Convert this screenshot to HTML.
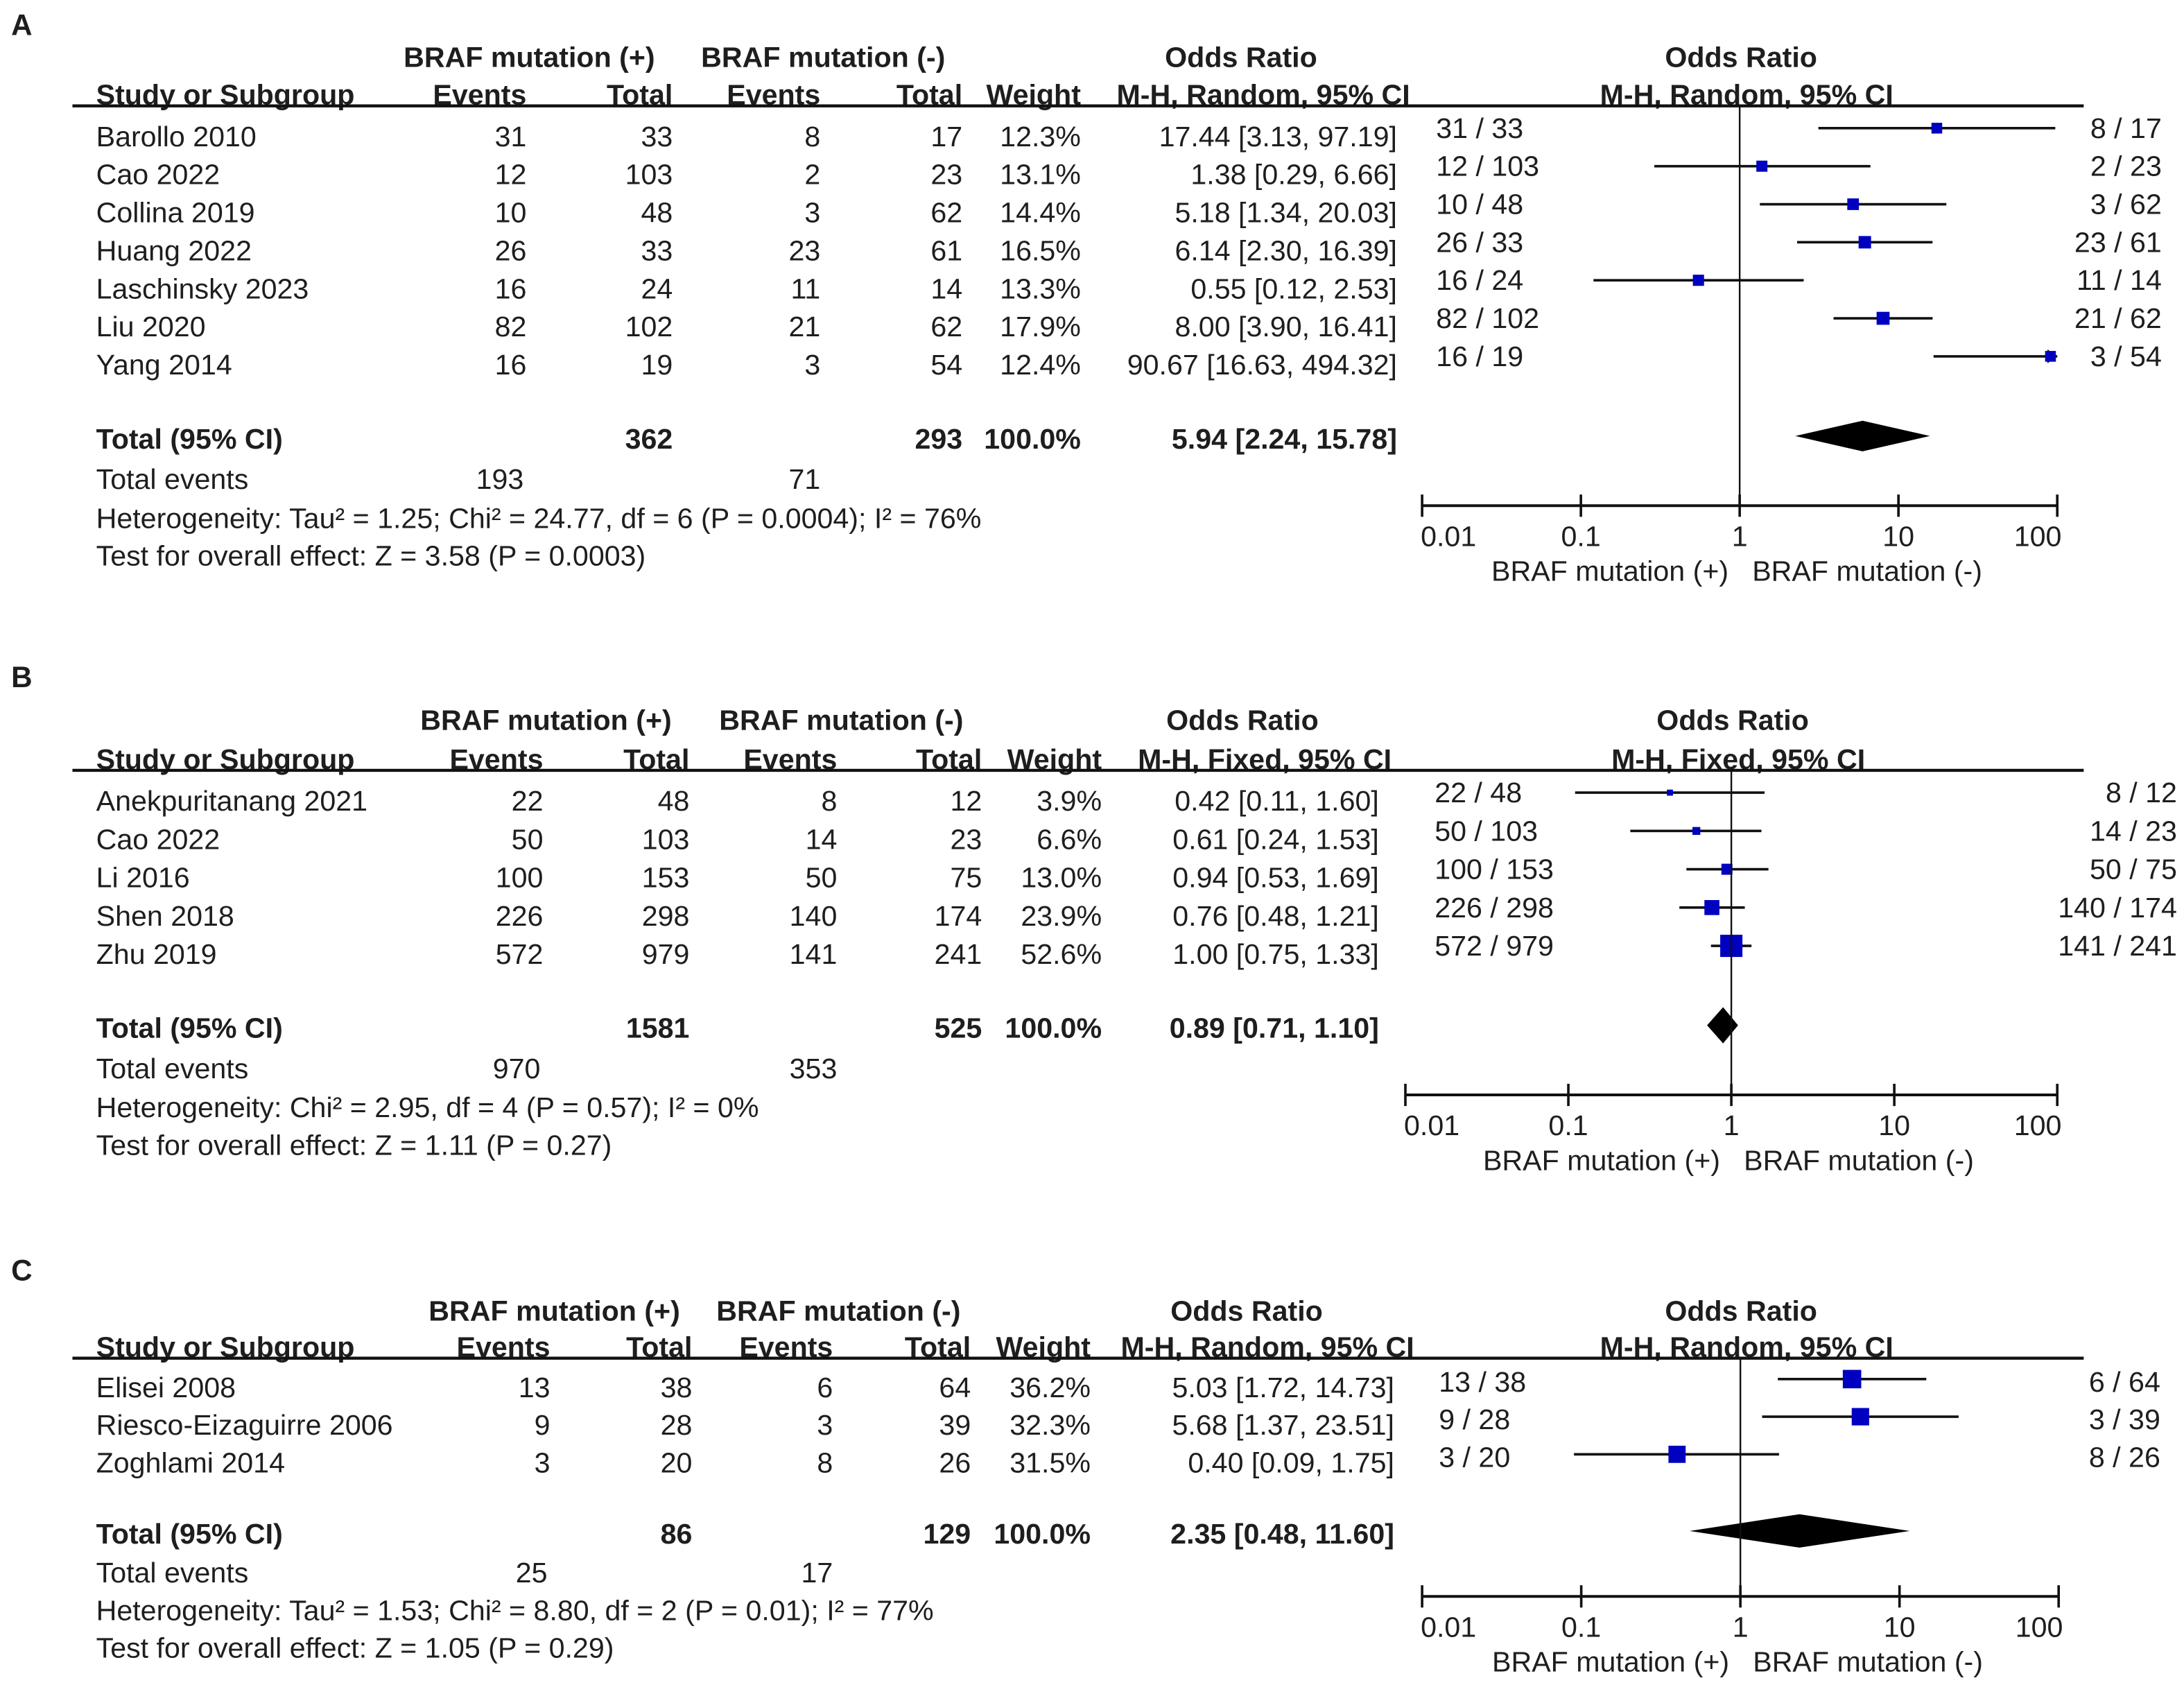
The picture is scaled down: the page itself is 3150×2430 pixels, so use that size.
<!DOCTYPE html>
<html><head><meta charset="utf-8"><style>
html,body{margin:0;padding:0;background:#fff;}
svg{display:block;}
text{font-family:"Liberation Sans",Arial,sans-serif;fill:#1e1e1e;}
</style></head><body>
<svg id="fig" xmlns="http://www.w3.org/2000/svg" width="3150" height="2430" viewBox="0 0 1568 1209.6"></svg>
<script>
// ---- Panel A data ----
const aStudies = ["Barollo 2010","Cao 2022","Collina 2019","Huang 2022","Laschinsky 2023","Liu 2020","Yang 2014"];
const aEv1 = [31,12,10,26,16,82,16];
const aTot1 = [33,103,48,33,24,102,19];
const aEv2 = [8,2,3,23,11,21,3];
const aTot2 = [17,23,62,61,14,62,54];
const aWeight = [12.3,13.1,14.4,16.5,13.3,17.9,12.4];
const aOR = [17.44,1.38,5.18,6.14,0.55,8.00,90.67];
const aLo = [3.13,0.29,1.34,2.30,0.12,3.90,16.63];
const aHi = [97.19,6.66,20.03,16.39,2.53,16.41,494.32];
const aTotal = {n1:362,n2:293,e1:193,e2:71,or:5.94,lo:2.24,hi:15.78};
// ---- Panel B data ----
const bStudies = ["Anekpuritanang 2021","Cao 2022","Li 2016","Shen 2018","Zhu 2019"];
const bEv1 = [22,50,100,226,572];
const bTot1 = [48,103,153,298,979];
const bEv2 = [8,14,50,140,141];
const bTot2 = [12,23,75,174,241];
const bWeight = [3.9,6.6,13.0,23.9,52.6];
const bOR = [0.42,0.61,0.94,0.76,1.00];
const bLo = [0.11,0.24,0.53,0.48,0.75];
const bHi = [1.60,1.53,1.69,1.21,1.33];
const bTotal = {n1:1581,n2:525,e1:970,e2:353,or:0.89,lo:0.71,hi:1.10};
// ---- Panel C data ----
const cStudies = ["Elisei 2008","Riesco-Eizaguirre 2006","Zoghlami 2014"];
const cEv1 = [13,9,3];
const cTot1 = [38,28,20];
const cEv2 = [6,3,8];
const cTot2 = [64,39,26];
const cWeight = [36.2,32.3,31.5];
const cOR = [5.03,5.68,0.40];
const cLo = [1.72,1.37,0.09];
const cHi = [14.73,23.51,1.75];
const cTotal = {n1:86,n2:129,e1:25,e2:17,or:2.35,lo:0.48,hi:11.60};
const tickVals = [0.01,0.1,1,10,100];
const tickLabels = ["0.01","0.1","1","10","100"];

const NS="http://www.w3.org/2000/svg";
const svg=document.getElementById('fig');
function mk(tag,attrs,parent){const e=document.createElementNS(NS,tag);for(const k in attrs)e.setAttribute(k,attrs[k]);(parent||svg).appendChild(e);return e;}
function txt(s,x,y,anchor,bold,g,size){const t=mk('text',{x:x,y:y,'text-anchor':anchor||'start','dominant-baseline':'central','font-size':size||20.5,'font-weight':bold?'bold':'normal'},g);t.textContent=s;return t;}
function f2(v){return v.toFixed(2);}

const panels=[
 {key:'a',letter:'A',ly:18,studies:aStudies,ev1:aEv1,tot1:aTot1,ev2:aEv2,tot2:aTot2,w:aWeight,or:aOR,lo:aLo,hi:aHi,tot:aTotal,method:'M-H, Random, 95% CI',
  h1:41,h2:68,line:76,row0:98,step:27.3,totY:315,evY:344,hetY:372,testY:399,axisY:363,
  cols:[378,483,589,691,776,1003],h1a:380,h1b:591,orC:891,mhC:907,x0:1021,x1:1477,rc:1250,lcx:1031,rcx:1552,cOff:-6,
  het:'Heterogeneity: Tau² = 1.25; Chi² = 24.77, df = 6 (P = 0.0004); I² = 76%',test:'Test for overall effect: Z = 3.58 (P = 0.0003)',dh:11},
 {key:'b',letter:'B',ly:486,studies:bStudies,ev1:bEv1,tot1:bTot1,ev2:bEv2,tot2:bTot2,w:bWeight,or:bOR,lo:bLo,hi:bHi,tot:bTotal,method:'M-H, Fixed, 95% CI',
  h1:517,h2:545,line:553,row0:575,step:27.5,totY:738,evY:767,hetY:795,testY:822,axisY:786,
  cols:[390,495,601,705,791,990],h1a:392,h1b:604,orC:892,mhC:908,x0:1009,x1:1477,rc:1244,lcx:1030,rcx:1563,cOff:-6,
  het:'Heterogeneity: Chi² = 2.95, df = 4 (P = 0.57); I² = 0%',test:'Test for overall effect: Z = 1.11 (P = 0.27)',dh:13},
 {key:'c',letter:'C',ly:912,studies:cStudies,ev1:cEv1,tot1:cTot1,ev2:cEv2,tot2:cTot2,w:cWeight,or:cOR,lo:cLo,hi:cHi,tot:cTotal,method:'M-H, Random, 95% CI',
  h1:941,h2:967,line:975,row0:996,step:27,totY:1101,evY:1129,hetY:1156,testY:1183,axisY:1146,
  cols:[395,497,598,697,783,1001],h1a:398,h1b:602,orC:895,mhC:910,x0:1021,x1:1478,rc:1250,lcx:1033,rcx:1551,cOff:-4,
  het:'Heterogeneity: Tau² = 1.53; Chi² = 8.80, df = 2 (P = 0.01); I² = 77%',test:'Test for overall effect: Z = 1.05 (P = 0.29)',dh:12}
];

panels.forEach(p=>{
  const g=mk('g',{});
  
  
  const xs=v=>p.x0+(Math.log10(v)+2)/4*(p.x1-p.x0);
  const xc=v=>xs(Math.min(100,Math.max(0.01,v)));
  const L=txt(p.letter,8,p.ly,'start',true,g,21);
  
  
  let t;
  t=txt('BRAF mutation (+)',p.h1a,p.h1,'middle',true,g);
  
  
  t=txt('BRAF mutation (-)',p.h1b,p.h1,'middle',true,g);
  
  
  t=txt('Odds Ratio',p.orC,p.h1,'middle',true,g);
  
  
  t=txt('Odds Ratio',p.rc,p.h1,'middle',true,g);
  
  
  txt('Study or Subgroup',69,p.h2,'start',true,g);
  ['Events','Total','Events','Total','Weight'].forEach((h,i)=>txt(h,p.cols[i],p.h2,'end',true,g));
  txt(p.method,p.mhC,p.h2,'middle',true,g);
  txt(p.method,p.rc+4,p.h2,'middle',true,g);
  const hl=mk('line',{x1:52,x2:1496,y1:p.line,y2:p.line,stroke:'#111','stroke-width':2.2},g);
  
  
  p.studies.forEach((s,i)=>{
    const y=p.row0+i*p.step;
    const r=mk('g',{},g);
    
    
    txt(s,69,y,'start',false,r);
    [p.ev1[i],p.tot1[i],p.ev2[i],p.tot2[i]].forEach((v,k)=>txt(String(v),p.cols[k],y,'end',false,r));
    txt(p.w[i].toFixed(1)+'%',p.cols[4],y,'end',false,r);
    txt(f2(p.or[i])+' ['+f2(p.lo[i])+', '+f2(p.hi[i])+']',p.cols[5],y,'end',false,r);
    const cy=y+p.cOff;
    txt(p.ev1[i]+' / '+p.tot1[i],p.lcx,cy,'start',false,r);
    txt(p.ev2[i]+' / '+p.tot2[i],p.rcx,cy,'end',false,r);
    const ci=mk('line',{x1:xc(p.lo[i]),x2:xc(p.hi[i]),y1:y-6,y2:y-6,stroke:'#111','stroke-width':1.8},r);
    
    
    if(p.hi[i]>100){
      const ax=xs(100);
      const ar=mk('polygon',{points:(ax)+','+(y-6)+' '+(ax-7)+','+(y-11)+' '+(ax-7)+','+(y-1),fill:'#111'},r);
      
      
    }
    const sz=2.2*Math.sqrt(p.w[i]);
    const sq=mk('rect',{x:xc(p.or[i])-sz/2,y:y-6-sz/2,width:sz,height:sz,fill:'#0000c0'},r);
    
    
  });
  txt('Total (95% CI)',69,p.totY,'start',true,g);
  txt(String(p.tot.n1),p.cols[1],p.totY,'end',true,g);
  txt(String(p.tot.n2),p.cols[3],p.totY,'end',true,g);
  txt('100.0%',p.cols[4],p.totY,'end',true,g);
  txt(f2(p.tot.or)+' ['+f2(p.tot.lo)+', '+f2(p.tot.hi)+']',p.cols[5],p.totY,'end',true,g);
  txt('Total events',69,p.evY,'start',false,g);
  txt(String(p.tot.e1),p.cols[0]-2,p.evY,'end',false,g);
  txt(String(p.tot.e2),p.cols[2],p.evY,'end',false,g);
  t=txt(p.het,69,p.hetY,'start',false,g);
  
  
  t=txt(p.test,69,p.testY,'start',false,g);
  
  
  const dy=p.totY-2;
  const dm=mk('polygon',{points:xs(p.tot.lo)+','+dy+' '+xs(p.tot.or)+','+(dy-p.dh)+' '+xs(p.tot.hi)+','+dy+' '+xs(p.tot.or)+','+(dy+p.dh),fill:'#000'},g);
  
  
  const nl=mk('line',{x1:xs(1),x2:xs(1),y1:p.line,y2:p.axisY,stroke:'#111','stroke-width':1.2},g);
  
  
  const ax=mk('line',{x1:p.x0,x2:p.x1,y1:p.axisY,y2:p.axisY,stroke:'#111','stroke-width':2},g);
  
  
  tickVals.forEach((v,i)=>{
    const tk=mk('line',{x1:xs(v),x2:xs(v),y1:p.axisY-8,y2:p.axisY+8,stroke:'#111','stroke-width':1.8},g);
    
    
    const tl=txt(tickLabels[i],i===0?xs(v)-1:(i===4?xs(v)-14:xs(v)),p.axisY+22,i===0?'start':'middle',false,g);
    
    
  });
  t=txt('BRAF mutation (+)',xs(1)-8,p.axisY+47,'end',false,g);
  
  
  t=txt('BRAF mutation (-)',xs(1)+9,p.axisY+47,'start',false,g);
  
  
});
</script>
</body></html>
